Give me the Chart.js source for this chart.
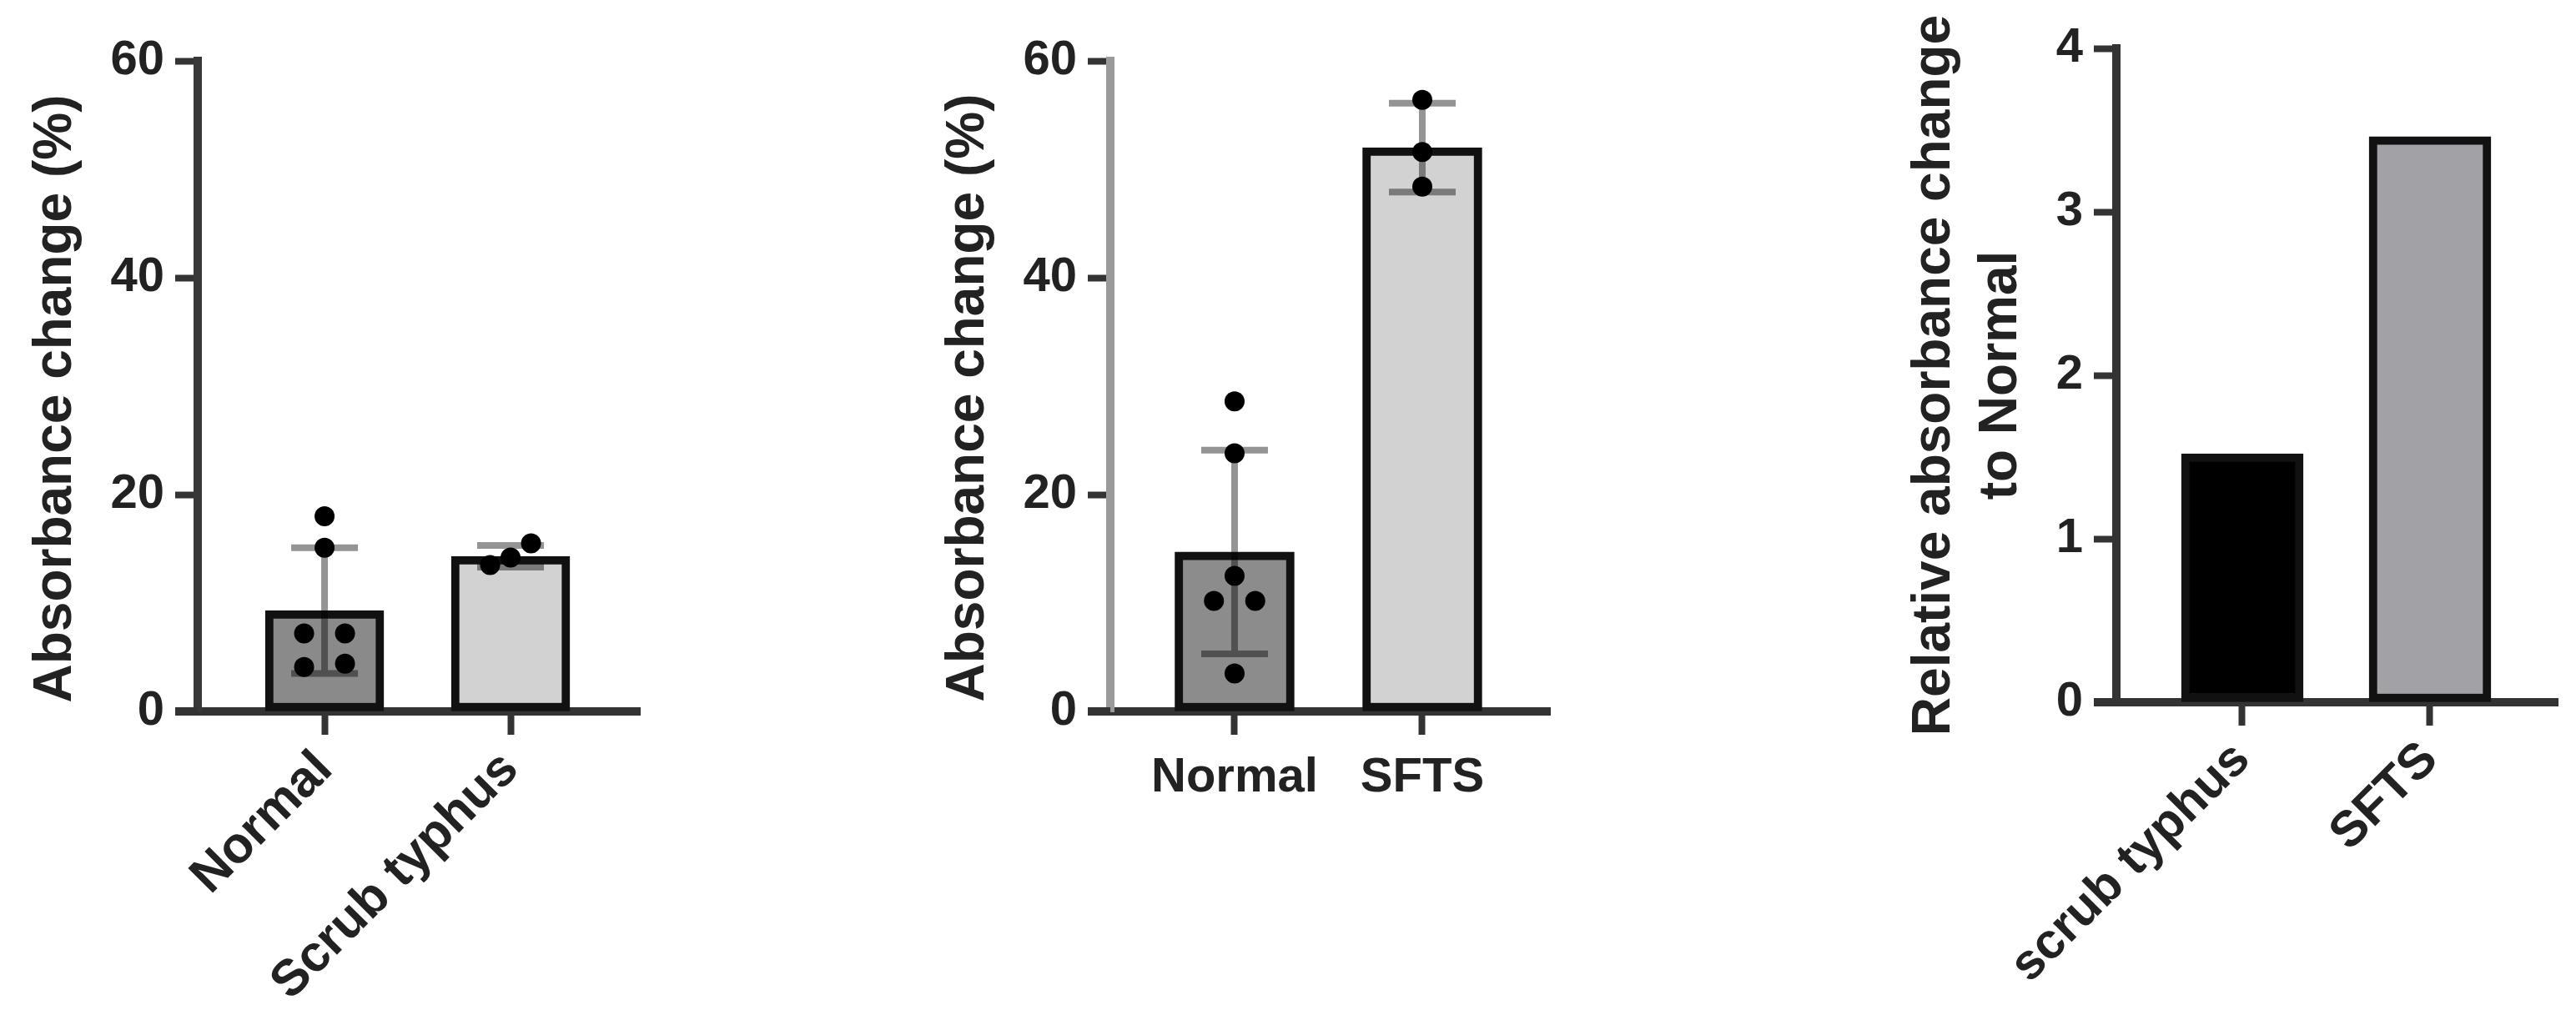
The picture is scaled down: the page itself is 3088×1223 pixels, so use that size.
<!DOCTYPE html>
<html>
<head>
<meta charset="utf-8">
<script src="https://cdn.jsdelivr.net/npm/chart.js@4.4.1/dist/chart.umd.min.js"></script>
<style>
    html, body { margin: 0; padding: 0; background: #fff; }
    body { width: 3088px; height: 1223px; position: relative; overflow: hidden; }
    canvas { position: absolute; top: 0; }
</style>
</head>
<body>
<canvas id="chartA" width="820" height="1223" style="left:0px"></canvas>
<canvas id="chartB" width="820" height="1223" style="left:1090px"></canvas>
<canvas id="chartC" width="838" height="1223" style="left:2250px"></canvas>
<script>
// panel A: Normal vs Scrub typhus (%)
const aLabels = ['Normal', 'Scrub typhus'];
const aMeans = [9.3, 14.3];
const aSd = [5.8, 1.0];
const aPoints = [[18.0, 15.1, 7.2, 7.2, 4.1, 4.4], [13.5, 14.2, 15.5]];
const aJitter = [[0, 0, -0.11, 0.11, -0.11, 0.11], [-0.11, 0, 0.11]];
const aTicks = [0, 20, 40, 60];

// panel B: Normal vs SFTS (%)
const bLabels = ['Normal', 'SFTS'];
const bMeans = [14.7, 52.0];
const bSd = [9.4, 4.1];
const bPoints = [[28.6, 23.8, 12.5, 10.2, 10.2, 3.5], [56.4, 51.6, 48.4]];
const bJitter = [[0, 0, 0, -0.11, 0.11, 0], [0, 0, 0]];
const bTicks = [0, 20, 40, 60];

// panel C: relative to Normal
const cLabels = ['scrub typhus', 'SFTS'];
const cValues = [1.52, 3.46];
const cTicks = [0, 1, 2, 3, 4];

const FONT = '"Liberation Sans", Arial, sans-serif';

const errorBars = {
    id: 'errorBars',
    afterDatasetDraw(chart, args) {
        const ds = chart.data.datasets[args.index];
        if (!ds.sd) return;
        const y = chart.scales.y;
        const ctx = chart.ctx;
        ctx.save();
        ctx.strokeStyle = 'rgba(0,0,0,0.42)';
        ctx.lineWidth = 8;
        args.meta.data.forEach((bar, i) => {
            const mean = ds.data[i].y;
            const hi = y.getPixelForValue(mean + ds.sd[i]);
            const lo = y.getPixelForValue(mean - ds.sd[i]);
            ctx.beginPath();
            ctx.moveTo(bar.x, hi); ctx.lineTo(bar.x, lo);
            ctx.moveTo(bar.x - 40, hi); ctx.lineTo(bar.x + 40, hi);
            ctx.moveTo(bar.x - 40, lo); ctx.lineTo(bar.x + 40, lo);
            ctx.stroke();
        });
        ctx.restore();
    }
};

// x axis runs a tick-length past the y axis, and the y title
const frame = {
    id: 'frame',
    afterDraw(chart, args, opts) {
        const { ctx, chartArea } = chart;
        const y0 = chart.scales.y.getPixelForValue(0);
        ctx.save();
        ctx.strokeStyle = '#333';
        ctx.lineWidth = 10;
        ctx.beginPath();
        ctx.moveTo(chartArea.left - 27, y0);
        ctx.lineTo(chartArea.left, y0);
        ctx.stroke();
        ctx.fillStyle = '#222';
        ctx.font = 'bold 64px ' + FONT;
        ctx.textAlign = 'center';
        ctx.textBaseline = 'alphabetic';
        opts.lines.forEach((line, i) => {
            ctx.save();
            ctx.translate(opts.x + i * 80, opts.y);
            ctx.rotate(-Math.PI / 2);
            ctx.fillText(line, 0, 0);
            ctx.restore();
        });
        ctx.restore();
    }
};

function makeChart(id, cfg) {
    const datasets = [{
        type: 'bar',
        data: cfg.means.map((v, i) => ({ x: i, y: v })),
        backgroundColor: cfg.fills,
        borderColor: '#111',
        borderWidth: 10,
        borderSkipped: false,
        barThickness: cfg.barWidth,
        sd: cfg.sd,
        order: 2
    }];
    if (cfg.points) {
        datasets.push({
            type: 'scatter',
            data: cfg.points.flatMap((vals, i) => vals.map((v, j) => ({ x: i + cfg.jitter[i][j], y: v }))),
            pointRadius: 12,
            pointBackgroundColor: '#000',
            pointBorderWidth: 0,
            order: 1
        });
    }
    const tickFont = { family: FONT, size: cfg.xFont, weight: 'bold' };
    return new Chart(document.getElementById(id).getContext('2d'), {
        type: 'bar',
        data: { datasets },
        plugins: [errorBars, frame],
        options: {
            responsive: false,
            animation: false,
            layout: { padding: { left: 0, top: cfg.top, right: cfg.padRight, bottom: 0 } },
            plugins: {
                legend: { display: false },
                tooltip: { enabled: false },
                frame: cfg.title
            },
            scales: {
                x: {
                    type: 'linear',
                    bounds: 'data',
                    offset: false,
                    min: cfg.xMin,
                    max: cfg.xMax,
                    afterBuildTicks: s => { s.ticks = cfg.labels.map((_, i) => ({ value: i })); },
                    afterFit: s => { s.height = cfg.xHeight; },
                    grid: { display: true, offset: false, drawOnChartArea: false, tickLength: 28, tickWidth: 8, tickColor: '#333' },
                    border: { display: true, width: 10, color: '#333' },
                    ticks: {
                        callback: v => cfg.labels[v],
                        font: tickFont,
                        color: '#222',
                        padding: cfg.xPad,
                        minRotation: cfg.rot,
                        maxRotation: cfg.rot,
                        autoSkip: false
                    }
                },
                y: {
                    min: 0,
                    max: cfg.ticks[cfg.ticks.length - 1],
                    afterBuildTicks: s => { s.ticks = cfg.ticks.map(v => ({ value: v })); },
                    afterFit: s => { s.width = cfg.yWidth; },
                    grid: { drawOnChartArea: false, tickLength: 27, tickWidth: 8, tickColor: '#333' },
                    border: { width: 10, color: cfg.yColor },
                    ticks: { font: { family: FONT, size: 58, weight: 'bold' }, color: '#222', padding: 13 }
                }
            }
        }
    });
}

makeChart('chartA', {
    labels: aLabels, means: aMeans, sd: aSd, points: aPoints, jitter: aJitter, ticks: aTicks,
    fills: ['#8a8a8a', '#d2d2d2'], barWidth: 142,
    top: 73, xHeight: 370, yWidth: 237, padRight: 53,
    xMin: -0.682, xMax: 1.695, rot: 45, xPad: 6, xFont: 61, yColor: '#383838',
    title: { lines: ['Absorbance change (%)'], x: 85, y: 478 }
});

makeChart('chartB', {
    labels: bLabels, means: bMeans, sd: bSd, points: bPoints, jitter: bJitter, ticks: bTicks,
    fills: ['#8c8c8c', '#d2d2d2'], barWidth: 143,
    top: 73, xHeight: 370, yWidth: 241, padRight: 52,
    xMin: -0.662, xMax: 1.68, rot: 0, xPad: 17, xFont: 58, yColor: '#9a9a9a',
    title: { lines: ['Absorbance change (%)'], x: 89, y: 477 }
});

makeChart('chartC', {
    labels: cLabels, means: cValues, ticks: cTicks,
    fills: ['#000000', '#a2a2a6'], barWidth: 146,
    top: 58, xHeight: 381, yWidth: 287, padRight: 22,
    xMin: -0.671, xMax: 1.68, rot: 45, xPad: 6, xFont: 60, yColor: '#333',
    title: { lines: ['Relative absorbance change', 'to Normal'], x: 87, y: 450 }
});
</script>
</body>
</html>
